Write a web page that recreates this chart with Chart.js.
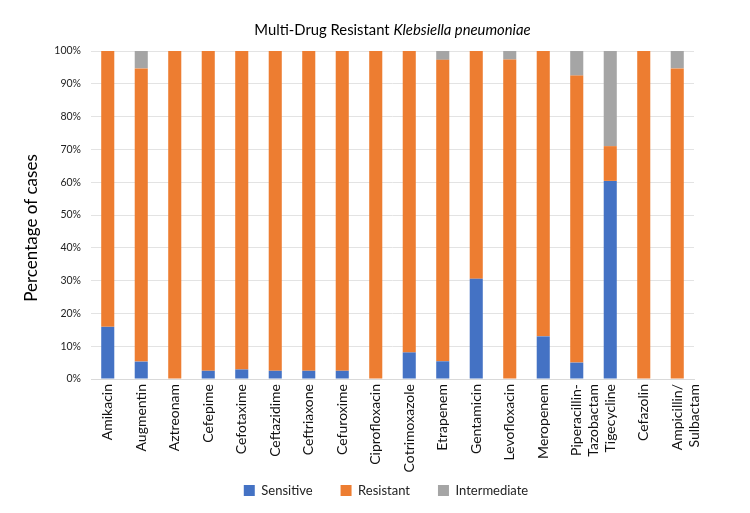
<!DOCTYPE html>
<html>
<head>
<meta charset="utf-8">
<script src="https://cdn.jsdelivr.net/npm/chart.js@4.4.0/dist/chart.umd.min.js"></script>
<style>
html,body{margin:0;padding:0;background:#fff;}
#wrap{width:750px;height:513px;position:relative;}
</style>
</head>
<body>
<div id="wrap"><canvas id="c" width="750" height="513"></canvas></div>
<script>
const categories = ["Amikacin","Augmentin","Aztreonam","Cefepime","Cefotaxime","Ceftazidime","Ceftriaxone","Cefuroxime","Ciprofloxacin","Cotrimoxazole","Etrapenem","Gentamicin","Levofloxacin","Meropenem",["Piperacillin-","Tazobactam"],"Tigecycline","Cefazolin",["Ampicillin/","Sulbactam"]];
const sensitive    = [15.9, 5.3, 0, 2.5, 2.9, 2.5, 2.5, 2.5, 0, 8.1, 5.4, 30.6, 0, 13.0, 5.0, 60.4, 0, 0];
const resistant    = [84.1, 89.4, 100, 97.5, 97.1, 97.5, 97.5, 97.5, 100, 91.9, 91.9, 69.4, 97.4, 87.0, 87.5, 10.6, 100, 94.7];
const intermediate = [0, 5.3, 0, 0, 0, 0, 0, 0, 0, 0, 2.7, 0, 2.6, 0, 7.5, 29.0, 0, 5.3];
const yTicks = [0,10,20,30,40,50,60,70,80,90,100];
const yTitle = 'Percentage of cases';

const FONT = "Lato, 'Open Sans', sans-serif";

const titlePlugin = {
  id: 'mixedTitle',
  afterLayout(chart) {
    // shift legend so it is centred like the reference
    if (chart.legend) { chart.legend.left += 34; chart.legend.right += 34; }
    // let the rotated x labels overflow below the fitted axis box
    const xs = chart.scales.x;
    xs.bottom = chart.height;
    xs.height = xs.bottom - xs.top;
  },
  afterDraw(chart) {
    const ctx = chart.ctx;
    ctx.save();
    ctx.fillStyle = '#000';
    ctx.textBaseline = 'alphabetic';
    const a = 'Multi-Drug Resistant ';
    const b = 'Klebsiella pneumoniae';
    ctx.font = "14.8px " + FONT;
    const wa = ctx.measureText(a).width;
    ctx.font = "italic 14.8px " + FONT;
    const wb = ctx.measureText(b).width;
    const cx = (chart.chartArea.left + chart.chartArea.right) / 2;
    let x = cx - (wa + wb) / 2;
    ctx.font = "14.8px " + FONT;
    ctx.fillText(a, x, 35);
    ctx.font = "italic 14.8px " + FONT;
    ctx.fillText(b, x + wa, 35);
    // y axis title
    ctx.translate(32, 228);
    ctx.rotate(-Math.PI / 2);
    ctx.font = "17px " + FONT;
    ctx.textAlign = 'center';
    ctx.textBaseline = 'middle';
    ctx.fillText(yTitle, 0, 0);
    ctx.restore();
  }
};

new Chart(document.getElementById('c'), {
  type: 'bar',
  data: {
    labels: categories,
    datasets: [
      {label: 'Sensitive', data: sensitive, backgroundColor: '#4472C4'},
      {label: 'Resistant', data: resistant, backgroundColor: '#ED7D31'},
      {label: 'Intermediate', data: intermediate, backgroundColor: '#A5A5A5'}
    ]
  },
  options: {
    responsive: false,
    animation: false,
    devicePixelRatio: 1,
    layout: {padding: {top: 51, right: 56, bottom: 6, left: 10}},
    datasets: {bar: {categoryPercentage: 1.0, barPercentage: 0.39}},
    plugins: {
      title: {display: false},
      tooltip: {enabled: false},
      legend: {
        position: 'bottom',
        labels: {
          font: {family: FONT, size: 13},
          color: '#222',
          boxWidth: 11,
          boxHeight: 11,
          padding: 28
        }
      }
    },
    scales: {
      x: {
        stacked: true,
        afterFit(scale) { scale.height = 77; },
        grid: {display: false, drawTicks: false},
        border: {display: true, color: '#D9D9D9'},
        ticks: {
          autoSkip: false,
          maxRotation: 90,
          minRotation: 90,
          padding: 5,
          color: '#111',
          font: {family: FONT, size: 14}
        }
      },
      y: {
        stacked: true,
        min: 0,
        max: 100,
        afterBuildTicks(scale) { scale.ticks = yTicks.map(v => ({value: v})); },
        afterFit(scale) { scale.width = 81; },
        grid: {color: '#E3E3E3', drawTicks: false},
        border: {display: false},
        ticks: {
          padding: 10,
          color: '#222',
          font: {family: FONT, size: 10.5},
          callback: v => v + '%'
        },
        title: {display: false}
      }
    }
  },
  plugins: [titlePlugin]
});
</script>
</body>
</html>
